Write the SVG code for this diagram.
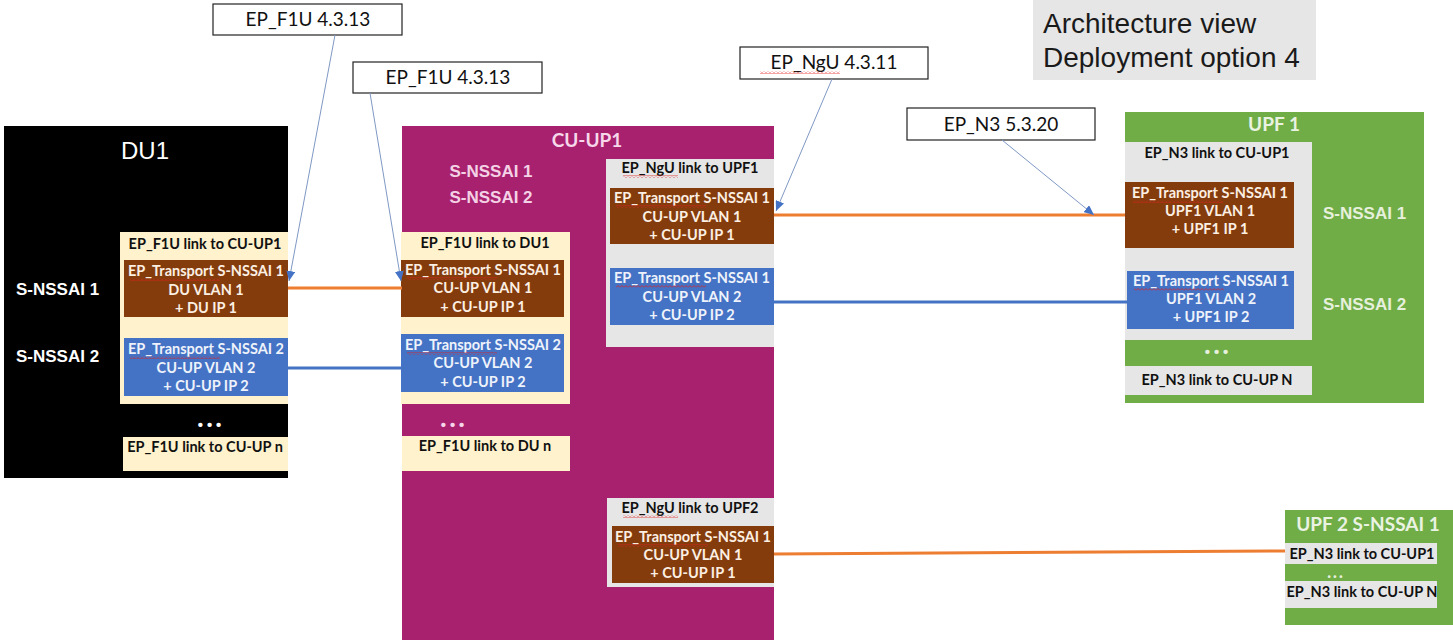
<svg xmlns="http://www.w3.org/2000/svg" width="1453" height="641" viewBox="0 0 1453 641">
<defs>
<style>
.lb{font-family:Lato,"Open Sans",sans-serif;font-weight:700;font-size:14.5px;text-anchor:middle}
.dk{fill:#111}
.wbr{fill:#fcefe3}
.wbl{fill:#eef3fb}
.ns{font-family:"Liberation Sans",Arial,sans-serif;font-weight:700;font-size:17px}
.ttl{font-family:Lato,"Open Sans",sans-serif;font-weight:700;font-size:19px;text-anchor:middle}
.dots{font-family:Lato,sans-serif;font-weight:900;font-size:26px;letter-spacing:3px;text-anchor:middle}
.co rect{fill:#fff;stroke:#222;stroke-width:1.2}
.co text{font-family:Lato,"Open Sans",sans-serif;font-size:19px;text-anchor:middle;fill:#111}
.brn{fill:#843c0c}
.blu{fill:#4472c4}
.crm{fill:#fff2cc}
.gry{fill:#e7e6e6}
.sq{fill:url(#squig)}
.lnk{stroke-width:3;fill:none}
.cl{stroke:#7f98c4;stroke-width:1;fill:none;marker-end:url(#ah)}
</style>
<pattern id="squig" width="4" height="3" patternUnits="userSpaceOnUse">
<polyline points="0,2.5 2,0.5 4,2.5" fill="none" stroke="#e02020" stroke-width="0.8"/>
</pattern>
<marker id="ah" markerUnits="userSpaceOnUse" markerWidth="11" markerHeight="9" refX="10" refY="4.5" orient="auto">
<path d="M0,0 L10,4.5 L0,9 z" fill="#4472c4"/>
</marker>
</defs>
<rect width="1453" height="641" fill="#fff"/>

<g id="arch-view">
<rect x="1033" y="0" width="283" height="80" fill="#e7e6e6"/>
<text x="1043" y="33" font-family="Liberation Sans,Arial,sans-serif" font-size="28" fill="#1a1a1a">Architecture view</text>
<text x="1043" y="67" font-family="Liberation Sans,Arial,sans-serif" font-size="28" fill="#1a1a1a">Deployment option 4</text>
</g>

<g id="du1">
<rect x="4" y="126" width="284" height="352" fill="#000"/>
<text x="145" y="159" font-family="Liberation Sans,Arial,sans-serif" font-size="24" fill="#fff" text-anchor="middle">DU1</text>
<text class="ns" x="16" y="295" fill="#fff">S-NSSAI 1</text>
<text class="ns" x="16" y="362" fill="#fff">S-NSSAI 2</text>
<rect class="crm" x="120" y="232" width="168" height="172"/>
<text class="lb dk" x="205" y="249">EP_F1U link to CU-UP1</text>
<rect class="brn" x="124" y="260" width="164" height="57"/>
<text class="lb wbr" x="206" y="276">EP_Transport S-NSSAI 1</text>
<rect class="sq" x="130" y="278" width="90" height="3"/>
<text class="lb wbr" x="206" y="295">DU VLAN 1</text>
<text class="lb wbr" x="206" y="313">+ DU IP 1</text>
<rect class="blu" x="124" y="338" width="164" height="58"/>
<text class="lb wbl" x="206" y="354">EP_Transport S-NSSAI 2</text>
<rect class="sq" x="130" y="356" width="90" height="3"/>
<text class="lb wbl" x="206" y="373">CU-UP VLAN 2</text>
<text class="lb wbl" x="206" y="391">+ CU-UP IP 2</text>
<text class="dots" x="211" y="427" fill="#fff">...</text>
<rect class="crm" x="123" y="437" width="165" height="34"/>
<text class="lb dk" x="205" y="452">EP_F1U link to CU-UP n</text>
</g>

<g id="cu-up1">
<rect x="402" y="126" width="372" height="514" fill="#a8216f"/>
<text class="ttl" x="587" y="147" fill="#f6d8ea">CU-UP1</text>
<text class="ns" x="491" y="177" fill="#f4d2e5" text-anchor="middle">S-NSSAI 1</text>
<text class="ns" x="491" y="203" fill="#f4d2e5" text-anchor="middle">S-NSSAI 2</text>
<rect class="crm" x="401" y="232" width="169" height="172"/>
<text class="lb dk" x="485" y="248">EP_F1U link to DU1</text>
<rect class="brn" x="401" y="260" width="163" height="57"/>
<text class="lb wbr" x="483" y="275">EP_Transport S-NSSAI 1</text>
<rect class="sq" x="407" y="277" width="90" height="3"/>
<text class="lb wbr" x="483" y="293">CU-UP VLAN 1</text>
<text class="lb wbr" x="483" y="312">+ CU-UP IP 1</text>
<rect class="blu" x="401" y="334" width="163" height="58"/>
<text class="lb wbl" x="483" y="350">EP_Transport S-NSSAI 2</text>
<rect class="sq" x="407" y="352" width="90" height="3"/>
<text class="lb wbl" x="483" y="368">CU-UP VLAN 2</text>
<text class="lb wbl" x="483" y="387">+ CU-UP IP 2</text>
<text class="dots" x="454" y="427" fill="#f6d8ea">...</text>
<rect class="crm" x="402" y="436" width="168" height="35"/>
<text class="lb dk" x="485" y="451">EP_F1U link to DU n</text>

<rect class="gry" x="606" y="159" width="168" height="188"/>
<text class="lb dk" x="690" y="173">EP_NgU link to UPF1</text>
<rect class="sq" x="623" y="175" width="55" height="3"/>
<rect class="brn" x="610" y="188" width="164" height="56"/>
<text class="lb wbr" x="692" y="203">EP_Transport S-NSSAI 1</text>
<rect class="sq" x="616" y="205" width="90" height="3"/>
<text class="lb wbr" x="692" y="222">CU-UP VLAN 1</text>
<text class="lb wbr" x="692" y="240">+ CU-UP IP 1</text>
<rect class="blu" x="610" y="268" width="164" height="57"/>
<text class="lb wbl" x="692" y="283">EP_Transport S-NSSAI 1</text>
<rect class="sq" x="616" y="285" width="90" height="3"/>
<text class="lb wbl" x="692" y="302">CU-UP VLAN 2</text>
<text class="lb wbl" x="692" y="320">+ CU-UP IP 2</text>

<rect class="gry" x="607" y="498" width="167" height="89"/>
<text class="lb dk" x="690" y="513">EP_NgU link to UPF2</text>
<rect class="sq" x="623" y="515" width="55" height="3"/>
<rect class="brn" x="612" y="526" width="162" height="57"/>
<text class="lb wbr" x="693" y="542">EP_Transport S-NSSAI 1</text>
<rect class="sq" x="618" y="544" width="90" height="3"/>
<text class="lb wbr" x="693" y="560">CU-UP VLAN 1</text>
<text class="lb wbr" x="693" y="578">+ CU-UP IP 1</text>
</g>

<g id="upf1">
<rect x="1125" y="112" width="299" height="291" fill="#70ad47"/>
<text class="ttl" x="1274" y="131" fill="#eaf3e2">UPF 1</text>
<rect class="gry" x="1125" y="142" width="187" height="198"/>
<text class="lb dk" x="1217" y="158">EP_N3 link to CU-UP1</text>
<rect class="brn" x="1125" y="182" width="169" height="66"/>
<text class="lb wbr" x="1210" y="198">EP_Transport S-NSSAI 1</text>
<rect class="sq" x="1133" y="200" width="90" height="3"/>
<text class="lb wbr" x="1210" y="216">UPF1 VLAN 1</text>
<text class="lb wbr" x="1210" y="234">+ UPF1 IP 1</text>
<rect class="blu" x="1127" y="271" width="167" height="58"/>
<text class="lb wbl" x="1211" y="286">EP_Transport S-NSSAI 1</text>
<rect class="sq" x="1134" y="288" width="90" height="3"/>
<text class="lb wbl" x="1211" y="304">UPF1 VLAN 2</text>
<text class="lb wbl" x="1211" y="322">+ UPF1 IP 2</text>
<text class="dots" x="1218" y="354" fill="#e6f0dc">...</text>
<rect class="gry" x="1125" y="366" width="187" height="29"/>
<text class="lb dk" x="1217" y="385">EP_N3 link to CU-UP N</text>
<text class="ns" x="1323" y="219" fill="#e6f0dc">S-NSSAI 1</text>
<text class="ns" x="1323" y="310" fill="#e6f0dc">S-NSSAI 2</text>
</g>

<g id="upf2">
<rect x="1285" y="510" width="168" height="115" fill="#70ad47"/>
<text class="ttl" x="1368" y="531" fill="#eaf3e2">UPF 2 S-NSSAI 1</text>
<rect class="gry" x="1285" y="543" width="152" height="21"/>
<text class="lb dk" x="1362" y="559">EP_N3 link to CU-UP1</text>
<text x="1336" y="578" fill="#e6f0dc" font-family="Lato,sans-serif" font-weight="900" font-size="16" letter-spacing="2" text-anchor="middle">...</text>
<rect class="gry" x="1285" y="581" width="152" height="27"/>
<text class="lb dk" x="1362" y="597">EP_N3 link to CU-UP N</text>
</g>

<g id="callouts" class="co">
<g id="co-f1u-a"><rect x="213" y="4" width="189" height="31"/><text x="308" y="26">EP_F1U 4.3.13</text></g>
<g id="co-f1u-b"><rect x="353" y="62" width="189" height="31"/><text x="448" y="84">EP_F1U 4.3.13</text></g>
<g id="co-ngu"><rect x="740" y="47" width="188" height="32"/><text x="834" y="69">EP_NgU 4.3.11</text><rect x="760" y="71" width="80" height="3" style="fill:url(#squig);stroke:none"/></g>
<g id="co-n3"><rect x="907" y="108" width="188" height="32"/><text x="1001" y="131">EP_N3 5.3.20</text></g>
</g>

<g id="connectors">
<line class="lnk" x1="288" y1="288" x2="402" y2="288" stroke="#ed7d31"/>
<line class="lnk" x1="288" y1="368" x2="402" y2="368" stroke="#4472c4"/>
<line class="lnk" x1="774" y1="215" x2="1125" y2="215" stroke="#ed7d31"/>
<line class="lnk" x1="774" y1="302" x2="1127" y2="302" stroke="#4472c4"/>
<line class="lnk" x1="774" y1="554" x2="1285" y2="551" stroke="#ed7d31"/>
<line class="cl" x1="335" y1="35" x2="289" y2="281"/>
<line class="cl" x1="370" y1="93" x2="401" y2="281"/>
<line class="cl" x1="832" y1="79" x2="776" y2="211"/>
<line class="cl" x1="1002" y1="140" x2="1094" y2="215"/>
</g>
</svg>
